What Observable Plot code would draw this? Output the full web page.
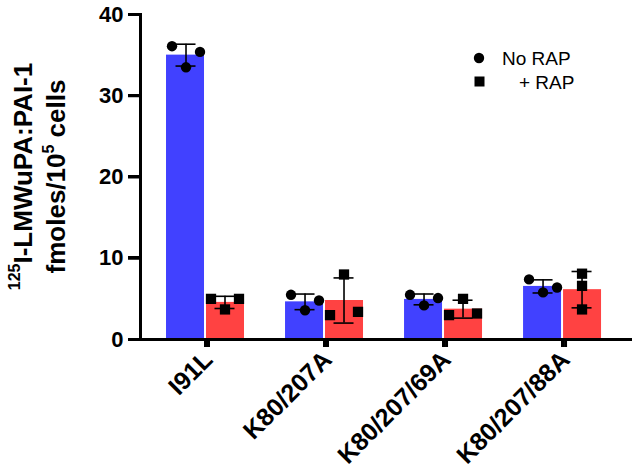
<!DOCTYPE html>
<html>
<head>
<meta charset="utf-8">
<script src="https://cdn.jsdelivr.net/npm/d3@7"></script>
<script src="https://cdn.jsdelivr.net/npm/@observablehq/plot@0.6"></script>
<style>
  body { margin: 0; background: #fff; }
  #chart { position: relative; width: 633px; height: 474px; overflow: hidden; }
  #overlay { position: absolute; left: 0; top: 0; pointer-events: none; }
  .axline { position: absolute; background: #000; pointer-events: none; }
</style>
</head>
<body>
<div id="chart"></div>
<script>
// ---- data ----
const categories = ["I91L", "K80/207A", "K80/207/69A", "K80/207/88A"];
const seriesNames = ["No RAP", "+ RAP"];
// individual replicate values (fmoles / 10^5 cells)
const noRapValues = [
  [36.1, 33.5, 35.4],
  [5.5, 3.6, 4.8],
  [5.5, 4.2, 5.1],
  [7.4, 5.8, 6.4]
];
const plusRapValues = [
  [5.0, 3.7, 5.0],
  [3.0, 8.0, 3.4],
  [3.0, 5.0, 3.2],
  [8.1, 6.6, 3.7]
];
const yTicks = [0, 10, 20, 30, 40];

// ---- derived tables ----
const points = [];
const summary = [];
[noRapValues, plusRapValues].forEach((vals, s) => {
  categories.forEach((c, i) => {
    const v = vals[i];
    const sorted = v.slice().sort(d3.ascending);
    const clash = d3.pairs(sorted).some(([a, b]) => b - a < 1.25);
    v.forEach((y, k) => points.push({category: c, s, value: y, slot: clash ? k - 1 : 0}));
    summary.push({category: c, s, mean: d3.mean(v), sd: d3.deviation(v)});
  });
});

// ---- layout / style ----
const FONT = "Liberation Sans, Arial, Helvetica, sans-serif";
const W = 633, H = 474;
const mL = 140, mR = 1, mT = 14, mB = 135;
const padIn = 0.328, padOut = 0.231, align = 0.455;
const band = d3.scaleBand(categories, [mL, W - mR]).paddingInner(padIn).paddingOuter(padOut).align(align);
const bw = band.bandwidth();
const half = bw / 2;
const shift = bw / 4 - 0.5;      // bar centre offset from band centre
const capHalf = 10;
const spread = 14;
const colors = ["#4141ff", "#ff4242"];
const AX = 3;                    // axis stroke width

const marks = [];
// bars
marks.push(Plot.barY(summary.filter(d => d.s === 0), {x: "category", y: "mean", fill: colors[0], insetLeft: 1, insetRight: half + 1}));
marks.push(Plot.barY(summary.filter(d => d.s === 1), {x: "category", y: "mean", fill: colors[1], insetLeft: half + 1, insetRight: 1}));
// axes
marks.push(Plot.ruleY([0], {stroke: "#000", strokeWidth: AX}));
marks.push(Plot.frame({anchor: "left", stroke: "#000", strokeWidth: AX}));
marks.push(Plot.axisY({ticks: yTicks, tickSize: 12, tickPadding: 5, strokeWidth: AX, stroke: "#000",
  fontSize: 22, fontWeight: "bold", fill: "#000", tickFormat: d => String(d), label: null}));
marks.push(Plot.axisX({tickSize: 8, tickPadding: 8, tickRotate: -45, strokeWidth: AX, stroke: "#000",
  fontSize: 25, fontWeight: "bold", fill: "#000", label: null, dx: 3}));
// error bars (mean ± SD)
[0, 1].forEach(s => {
  const data = summary.filter(d => d.s === s);
  const dx = s === 0 ? -shift : shift;
  const c = s === 0 ? half - shift : half + shift; // cap centre within band
  marks.push(Plot.ruleX(data, {x: "category", y1: d => d.mean - d.sd, y2: d => d.mean + d.sd, dx, stroke: "#000", strokeWidth: 1.6}));
  for (const f of [d => d.mean + d.sd, d => d.mean - d.sd]) {
    marks.push(Plot.tickY(data, {x: "category", y: f, stroke: "#000", strokeWidth: 1.6,
      insetLeft: c - capHalf, insetRight: bw - c - capHalf}));
  }
});
// replicate points
[0, 1].forEach(s => {
  [-1, 0, 1].forEach(slot => {
    const data = points.filter(d => d.s === s && d.slot === slot);
    if (!data.length) return;
    const dx = (s === 0 ? -shift : shift) + slot * spread;
    marks.push(Plot.dot(data, {x: "category", y: "value", dx,
      symbol: s === 0 ? "circle" : "square", r: s === 0 ? 5.2 : 5.8, fill: "#000"}));
  });
});

const chart = Plot.plot({
  width: W, height: H,
  marginLeft: mL, marginRight: mR, marginTop: mT, marginBottom: mB,
  style: {fontFamily: FONT, background: "#fff", color: "#000"},
  x: {type: "band", domain: categories, paddingInner: padIn, paddingOuter: padOut, align, round: false},
  y: {domain: [0, 40]},
  marks
});
const host = document.getElementById("chart");
host.appendChild(chart);

// ---- axis lines and ticks reinforced as HTML strips, positioned from Plot's own scales ----
const xs = chart.scale("x"), ys = chart.scale("y");
const y0 = ys.apply(0), yTop = ys.apply(40);
function strip(x, y, w, h) {
  const d = document.createElement("div");
  d.className = "axline";
  Object.assign(d.style, {left: x + "px", top: y + "px", width: w + "px", height: h + "px"});
  host.appendChild(d);
}
strip(mL - AX / 2, y0 - AX / 2, W - mR - mL + AX / 2, AX);           // x-axis line
strip(mL - AX / 2, yTop - AX / 2, AX, y0 - yTop + AX);               // y-axis line
yTicks.forEach(t => strip(mL - 12, ys.apply(t) - AX / 2, 12, AX));   // y ticks
categories.forEach(c => strip(xs.apply(c) + xs.bandwidth / 2 - AX / 2, y0, AX, 8)); // x ticks

// ---- y-axis title (two lines with superscripts) and legend ----
const ov = d3.select(host).append("svg").attr("id", "overlay").attr("width", W).attr("height", H);
const title = ov.append("text")
  .attr("transform", `translate(32,${(mT + H - mB) / 2}) rotate(-90)`)
  .attr("text-anchor", "middle")
  .attr("font-family", FONT)
  .attr("font-weight", "bold").style("font-size", "26px").attr("fill", "#000");
const l1 = title.append("tspan").attr("x", 0).attr("y", 0);
l1.append("tspan").style("font-size", "16px").attr("dy", -12).text("125");
l1.append("tspan").attr("dy", 12).text("I-LMWuPA:PAI-1");
const l2 = title.append("tspan").attr("x", 0).attr("y", 33);
l2.append("tspan").text("fmoles/10");
l2.append("tspan").style("font-size", "16px").attr("dy", -11).text("5");
l2.append("tspan").attr("dy", 11).text(" cells");

const legend = ov.append("g").attr("font-family", FONT).style("font-size", "19px")
  .attr("fill", "#000").attr("text-anchor", "start");
legend.append("circle").attr("cx", 479).attr("cy", 58).attr("r", 5.2).attr("fill", "#000");
legend.append("text").attr("x", 502).attr("y", 65).style("font-size", "19px").text(seriesNames[0]);
legend.append("rect").attr("x", 474.5).attr("y", 76.5).attr("width", 10).attr("height", 10).attr("fill", "#000");
legend.append("text").attr("x", 519).attr("y", 89).style("font-size", "19px").text(seriesNames[1]);
</script>
</body>
</html>
